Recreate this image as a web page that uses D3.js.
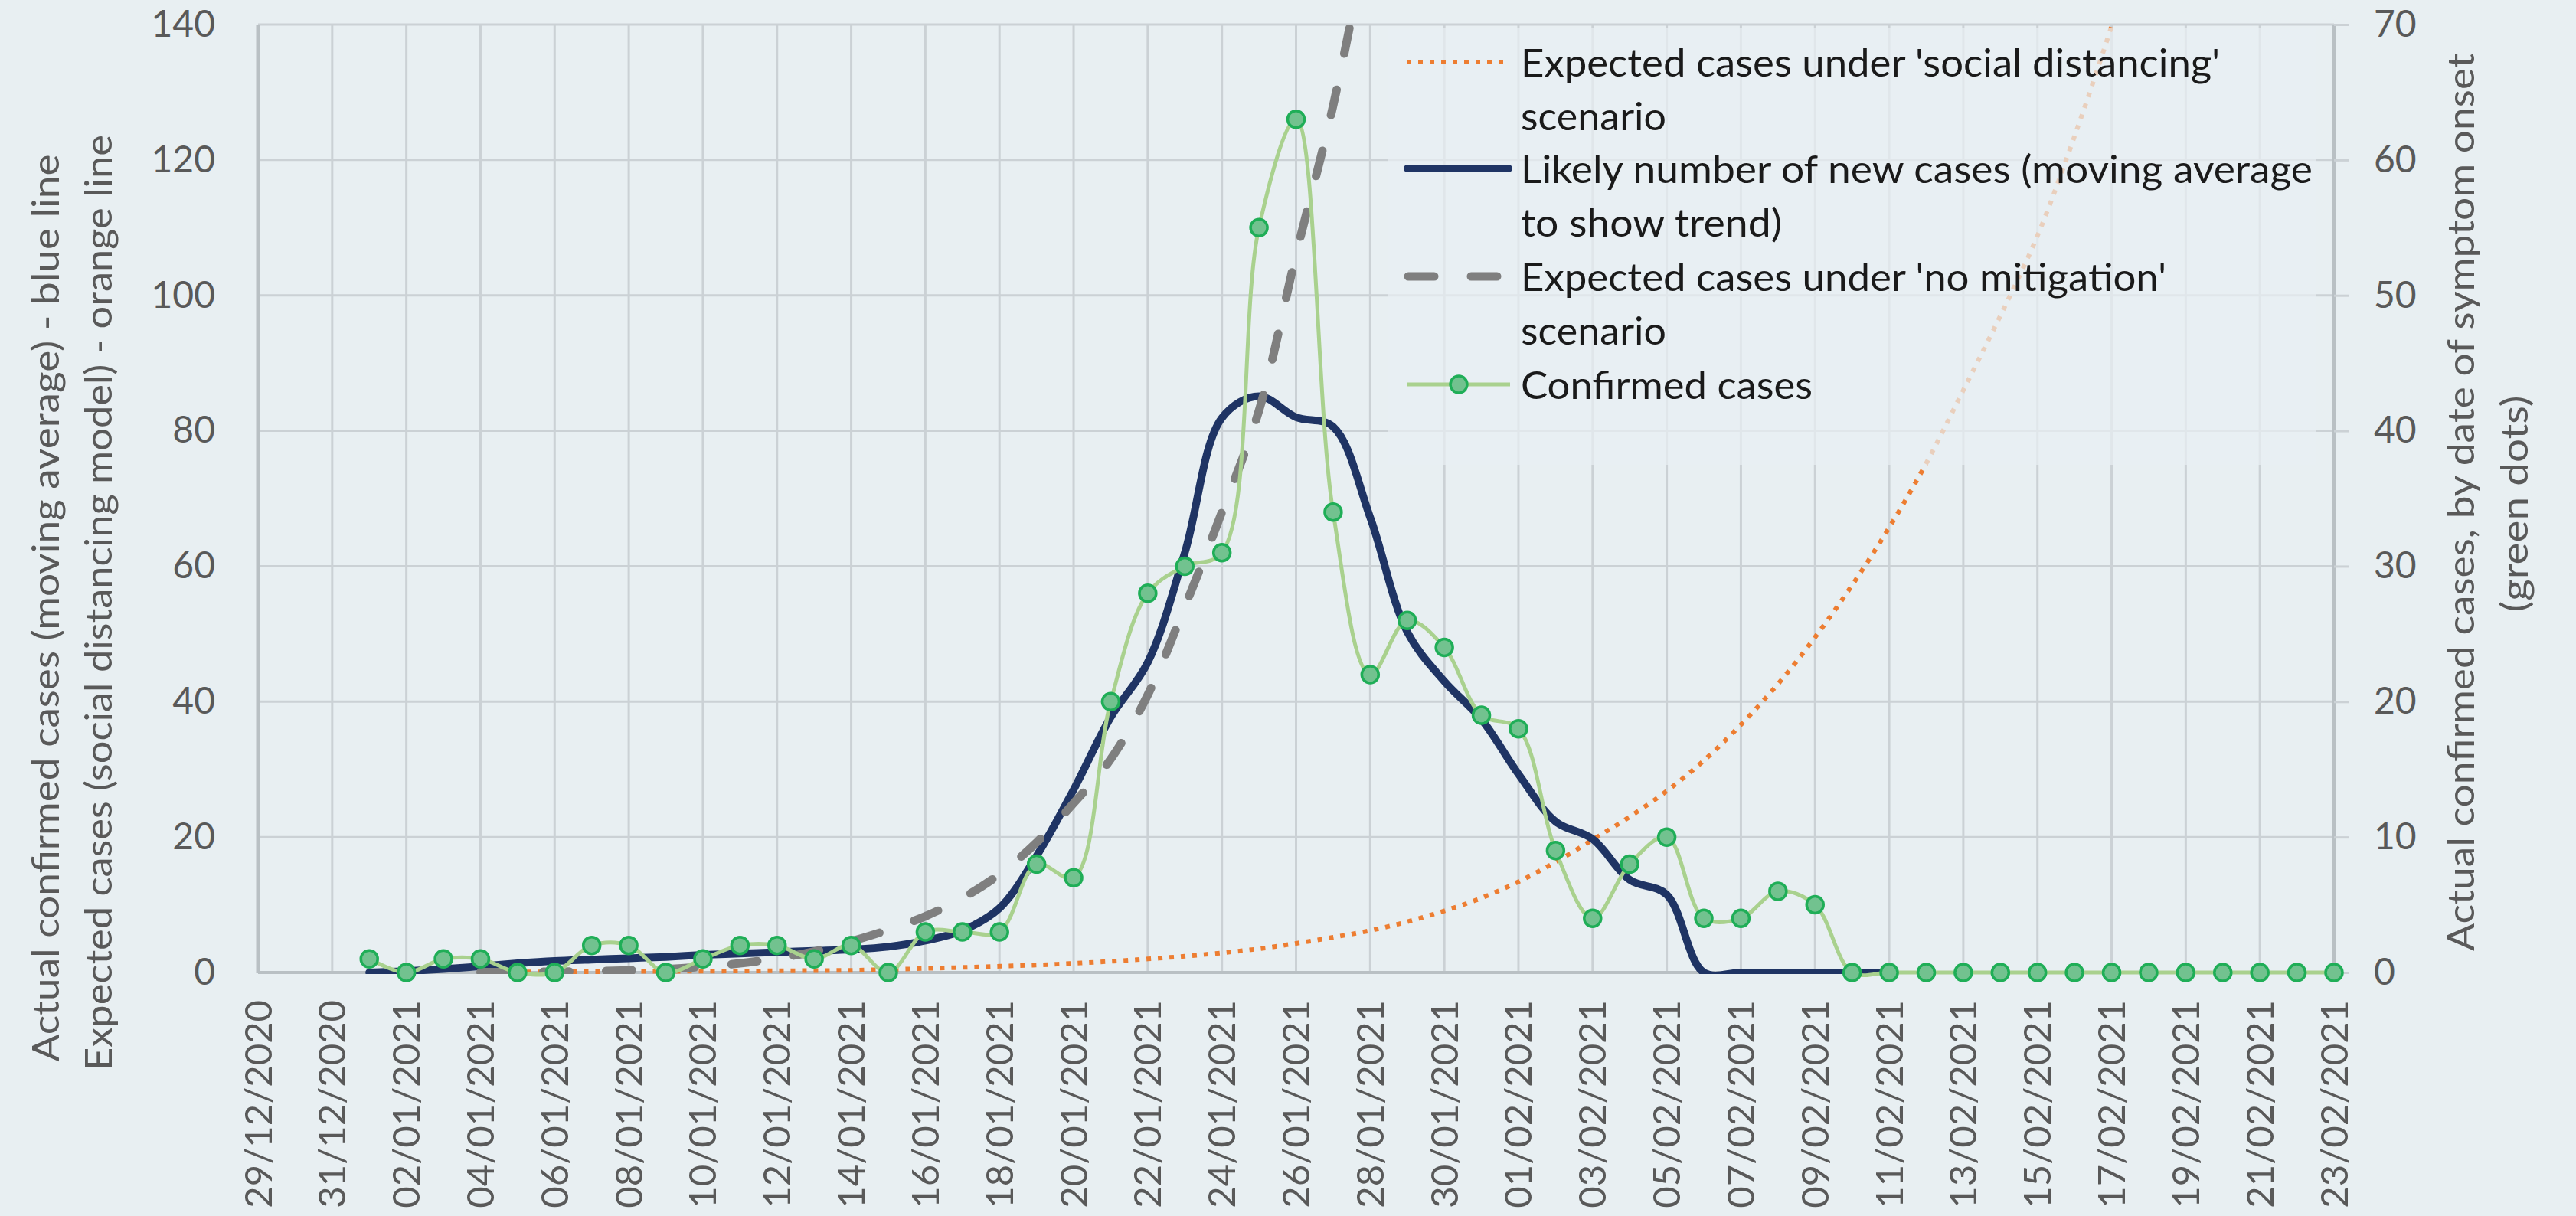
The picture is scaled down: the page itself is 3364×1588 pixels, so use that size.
<!DOCTYPE html>
<html><head><meta charset="utf-8">
<script src="https://cdn.jsdelivr.net/npm/d3@7"></script>
<style>html,body{margin:0;padding:0;background:#e8eff2;} svg{display:block;}</style>
</head><body>
<svg id="chart" width="3364" height="1588"></svg>
<script>
// ---------------- DATA ----------------
const dates = [
"29/12/2020","30/12/2020","31/12/2020",
"01/01/2021","02/01/2021","03/01/2021","04/01/2021","05/01/2021","06/01/2021","07/01/2021","08/01/2021","09/01/2021","10/01/2021",
"11/01/2021","12/01/2021","13/01/2021","14/01/2021","15/01/2021","16/01/2021","17/01/2021","18/01/2021","19/01/2021","20/01/2021",
"21/01/2021","22/01/2021","23/01/2021","24/01/2021","25/01/2021","26/01/2021","27/01/2021","28/01/2021","29/01/2021","30/01/2021","31/01/2021",
"01/02/2021","02/02/2021","03/02/2021","04/02/2021","05/02/2021","06/02/2021","07/02/2021","08/02/2021","09/02/2021","10/02/2021",
"11/02/2021","12/02/2021","13/02/2021","14/02/2021","15/02/2021","16/02/2021","17/02/2021","18/02/2021","19/02/2021","20/02/2021",
"21/02/2021","22/02/2021","23/02/2021"];

const xTickLabels = ["29/12/2020","31/12/2020","02/01/2021","04/01/2021","06/01/2021","08/01/2021","10/01/2021","12/01/2021",
"14/01/2021","16/01/2021","18/01/2021","20/01/2021","22/01/2021","24/01/2021","26/01/2021","28/01/2021","30/01/2021",
"01/02/2021","03/02/2021","05/02/2021","07/02/2021","09/02/2021","11/02/2021","13/02/2021","15/02/2021","17/02/2021",
"19/02/2021","21/02/2021","23/02/2021"];

const leftTicks = [0,20,40,60,80,100,120,140];
const rightTicks = [0,10,20,30,40,50,60,70];

// Expected cases under 'social distancing' scenario (left axis)
const socialDistancing = [null,null,null,null,null,null,
0.05,0.07,0.1,0.12,0.15,0.17,0.2,0.22,0.25,0.28,0.32,0.45,0.6,0.75,0.92,1.1,1.35,1.65,2.0,2.4,2.9,3.5,4.3,5.2,6.2,7.5,9.1,11.0,
13.4,16.3,19.6,23.0,26.8,31.3,36.6,42.6,49.5,57.2,65.7,75.2,86,97,108.8,123.5,139.8,158,
null,null,null,null,null];

// Likely number of new cases (moving average) (left axis)
const movingAverage = [null,null,null,
0,0.2,0.5,0.9,1.35,1.7,1.9,2.1,2.3,2.6,2.8,3.0,3.2,3.4,3.8,4.7,6.2,9.5,17.2,27,37.7,45.8,62,81.9,85.1,82,80.6,67.2,50.3,43,37.4,
29.3,22.3,19.7,13.7,11.5,0,0,0,0,0,0,
null,null,null,null,null,null,null,null,null,null,null,null];

// Expected cases under 'no mitigation' scenario (left axis)
const noMitigation = [null,null,null,null,null,null,
0.05,0.08,0.12,0.18,0.3,0.5,0.85,1.35,2.1,3.1,4.6,6.3,8.3,11.0,14.5,19.2,25,31.5,41,54,68,83,106,128,155,
null,null,null,null,null,null,null,null,null,null,null,null,null,null,null,null,null,null,null,null,null,null,null,null,null,null];

// Confirmed cases by date of symptom onset (right axis)
const confirmed = [null,null,null,
1,0,1,1,0,0,2,2,0,1,
2,2,1,2,0,3,3,3,8,7,
20,28,30,31,55,63,34,22,26,24,
19,18,9,4,8,10,4,4,6,5,
0,0,0,0,0,0,0,0,0,0,0,0,0,0];

const legendItems = [
  {key:"social", lines:["Expected cases under 'social distancing'","scenario"], widths:[913,190]},
  {key:"avg", lines:["Likely number of new cases (moving average","to show trend)"], widths:[1034,341]},
  {key:"nomit", lines:["Expected cases under 'no mitigation'","scenario"], widths:[843,190]},
  {key:"conf", lines:["Confirmed cases"], widths:[381]}
];

// ---------------- STYLES ----------------
const C = {
  bg:"#e8eff2", grid:"#cbd1d5", axis:"#b9c0c4", tick:"#595959",
  orange:"#ed7d31", blue:"#1f3464", gray:"#7f7f7f", green:"#a9d18e",
  markerFill:"#72c28f", markerStroke:"#1fae57"
};
const FONT = "Lato, 'Open Sans', sans-serif";

// ---------------- LAYOUT ----------------
const P = {left:337, right:3048, top:32, bottom:1270};
const svg = d3.select("#chart");
svg.append("rect").attr("width",3364).attr("height",1588).attr("fill",C.bg);

const x = d3.scalePoint().domain(dates).range([P.left,P.right]);
const yL = d3.scaleLinear().domain([0,140]).range([P.bottom,P.top]);
const yR = d3.scaleLinear().domain([0,70]).range([P.bottom,P.top]);

const defs = svg.append("defs");
defs.append("clipPath").attr("id","clipMain").append("rect")
  .attr("x",P.left).attr("y",P.top).attr("width",P.right-P.left).attr("height",P.bottom-P.top+2);
defs.append("clipPath").attr("id","clipGreen").append("rect")
  .attr("x",P.left).attr("y",P.top-20).attr("width",P.right-P.left+20).attr("height",P.bottom-P.top+26);

// vertical gridlines (every second day)
svg.append("g").selectAll("line").data(xTickLabels.slice(1,-1)).join("line")
  .attr("x1",d=>x(d)).attr("x2",d=>x(d)).attr("y1",P.top).attr("y2",P.bottom)
  .attr("stroke",C.grid).attr("stroke-width",3);

// horizontal gridlines
svg.append("g").selectAll("line").data(leftTicks.slice(1)).join("line")
  .attr("x1",P.left).attr("x2",P.right).attr("y1",d=>yL(d)).attr("y2",d=>yL(d))
  .attr("stroke",C.grid).attr("stroke-width",3);

// axis lines
svg.append("line").attr("x1",P.left).attr("x2",P.left).attr("y1",P.top).attr("y2",P.bottom+1)
  .attr("stroke",C.axis).attr("stroke-width",5);
svg.append("line").attr("x1",P.right).attr("x2",P.right).attr("y1",P.top).attr("y2",P.bottom+1)
  .attr("stroke",C.axis).attr("stroke-width",5);
svg.append("line").attr("x1",P.left).attr("x2",P.right).attr("y1",P.bottom).attr("y2",P.bottom)
  .attr("stroke",C.axis).attr("stroke-width",4);

// left axis labels
const gL = svg.append("g").attr("transform",`translate(${P.left},0)`)
  .call(d3.axisLeft(yL).tickValues(leftTicks).tickSize(0).tickPadding(56));
gL.select(".domain").remove();
gL.selectAll("text").attr("font-family",FONT).attr("font-size",48).attr("fill",C.tick);

// right axis with outward ticks
const gR = svg.append("g").attr("transform",`translate(${P.right},0)`)
  .call(d3.axisRight(yR).tickValues(rightTicks).tickSize(20).tickPadding(32));
gR.select(".domain").remove();
gR.selectAll("line").attr("stroke",C.grid).attr("stroke-width",3);
gR.selectAll("text").attr("font-family",FONT).attr("font-size",48).attr("fill",C.tick);

// bottom axis labels (rotated)
const gB = svg.append("g").attr("transform",`translate(0,${P.bottom})`)
  .call(d3.axisBottom(x).tickValues(xTickLabels).tickSize(0));
gB.select(".domain").remove();
gB.selectAll("text").attr("font-family",FONT).attr("font-size",49).attr("fill",C.tick)
  .attr("transform","rotate(-90)").attr("text-anchor","end")
  .attr("x",-36).attr("y",17).attr("dy",0);

// ---------------- SERIES ----------------
const curve = d3.curveCatmullRom.alpha(0.5);
const lineL = d3.line().defined(d=>d!=null).x((d,i)=>x(dates[i])).y(d=>yL(d)).curve(curve);
const lineR = d3.line().defined(d=>d!=null).x((d,i)=>x(dates[i])).y(d=>yR(d)).curve(curve);

const gS = svg.append("g").attr("clip-path","url(#clipMain)");
gS.append("path").datum(socialDistancing).attr("d",lineL).attr("fill","none")
  .attr("stroke",C.orange).attr("stroke-width",6).attr("stroke-dasharray","6,9");
gS.append("path").datum(movingAverage).attr("d",lineL).attr("fill","none")
  .attr("stroke",C.blue).attr("stroke-width",10).attr("stroke-linecap","round").attr("stroke-linejoin","round");
gS.append("path").datum(noMitigation).attr("d",lineL).attr("fill","none")
  .attr("stroke",C.gray).attr("stroke-width",11).attr("stroke-linecap","round").attr("stroke-dasharray","34,48");

const gG = svg.append("g").attr("clip-path","url(#clipGreen)");
gG.append("path").datum(confirmed).attr("d",lineR).attr("fill","none")
  .attr("stroke",C.green).attr("stroke-width",5).attr("stroke-linejoin","round");
svg.append("g").selectAll("circle")
  .data(confirmed.map((v,i)=>({v,d:dates[i]})).filter(p=>p.v!=null)).join("circle")
  .attr("cx",p=>x(p.d)).attr("cy",p=>yR(p.v)).attr("r",11)
  .attr("fill",C.markerFill).attr("stroke",C.markerStroke).attr("stroke-width",3.5);

// ---------------- AXIS TITLES ----------------
function vtext(tx,ty,str,len){
  svg.append("text").attr("transform",`translate(${tx},${ty}) rotate(-90)`)
    .attr("text-anchor","middle").attr("font-family",FONT).attr("font-size",48).attr("fill",C.tick)
    .attr("textLength",len).attr("lengthAdjust","spacingAndGlyphs").text(str);
}
vtext(77,794,"Actual confirmed cases (moving average) - blue line",1185);
vtext(146,787,"Expected cases (social distancing model) - orange line",1222);
vtext(3231,656,"Actual confirmed cases, by date of symptom onset",1172);
vtext(3301,658,"(green dots)",283);

// ---------------- LEGEND ----------------
const lg = svg.append("g");
lg.append("rect").attr("x",1813).attr("y",36).attr("width",1211).attr("height",571)
  .attr("fill",C.bg).attr("opacity",0.72);
const rowY = [[81,151],[220,290],[361,431],[502]];
legendItems.forEach((it,k)=>{
  it.lines.forEach((ln,j)=>{
    lg.append("text").attr("x",1986).attr("y",rowY[k][j]).attr("dominant-baseline","central")
      .attr("font-family",FONT).attr("font-size",50).attr("fill","#1a1a1a")
      .attr("textLength",it.widths[j]).attr("lengthAdjust","spacingAndGlyphs").text(ln);
  });
});
const sy = rowY.map(r=>r[0]);
lg.append("line").attr("x1",1837).attr("x2",1971).attr("y1",sy[0]).attr("y2",sy[0])
  .attr("stroke",C.orange).attr("stroke-width",6).attr("stroke-dasharray","6,9");
lg.append("line").attr("x1",1838).attr("x2",1970).attr("y1",sy[1]).attr("y2",sy[1])
  .attr("stroke",C.blue).attr("stroke-width",10).attr("stroke-linecap","round");
lg.append("line").attr("x1",1839).attr("x2",1960).attr("y1",sy[2]).attr("y2",sy[2])
  .attr("stroke",C.gray).attr("stroke-width",11).attr("stroke-linecap","round").attr("stroke-dasharray","34,48");
lg.append("line").attr("x1",1837).attr("x2",1972).attr("y1",sy[3]).attr("y2",sy[3])
  .attr("stroke",C.green).attr("stroke-width",5);
lg.append("circle").attr("cx",1905).attr("cy",sy[3]).attr("r",11)
  .attr("fill",C.markerFill).attr("stroke",C.markerStroke).attr("stroke-width",3.5);
</script>
</body></html>
